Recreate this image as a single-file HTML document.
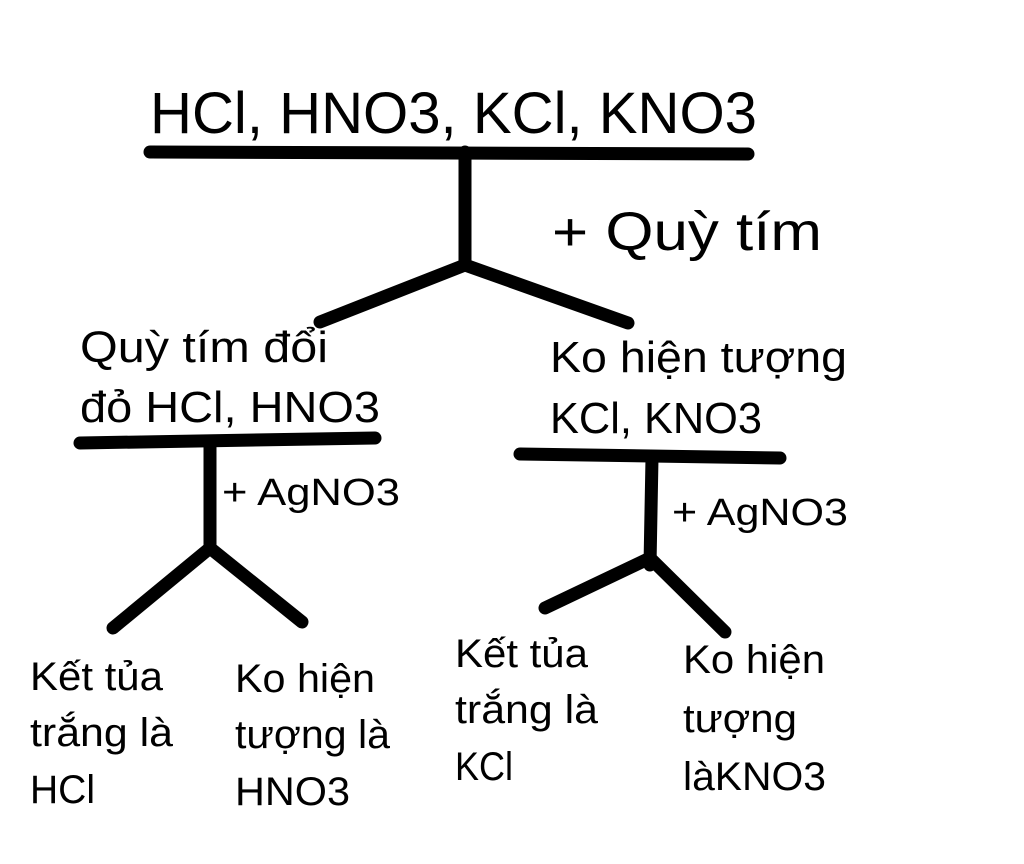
<!DOCTYPE html>
<html><head><meta charset="utf-8"><style>
html,body{margin:0;padding:0;background:#fff;}
svg{display:block;}
text{font-family:"Liberation Sans","DejaVu Sans",sans-serif;fill:#000;}
</style></head><body>
<svg width="1024" height="864" viewBox="0 0 1024 864" xmlns="http://www.w3.org/2000/svg">
<g stroke="#000" stroke-width="13" stroke-linecap="round" fill="none">
<line x1="150" y1="152" x2="748" y2="154"/>
<line x1="465" y1="152" x2="465" y2="265"/>
<line x1="465" y1="265" x2="320" y2="322"/>
<line x1="465" y1="265" x2="628" y2="323"/>
<line x1="80" y1="443" x2="375" y2="438"/>
<line x1="210" y1="443" x2="210" y2="548"/>
<line x1="210" y1="548" x2="113" y2="628"/>
<line x1="210" y1="548" x2="302" y2="622"/>
<line x1="520" y1="454" x2="780" y2="458"/>
<line x1="652" y1="458" x2="650" y2="565"/>
<line x1="650" y1="558" x2="545" y2="608"/>
<line x1="650" y1="558" x2="725" y2="632"/>
</g>
<text x="150" y="133" font-size="58" textLength="607" lengthAdjust="spacingAndGlyphs">HCl, HNO3, KCl, KNO3</text>
<text x="552" y="250" font-size="54" textLength="270" lengthAdjust="spacingAndGlyphs">+ Quỳ tím</text>
<text x="80" y="362" font-size="44" textLength="248" lengthAdjust="spacingAndGlyphs">Quỳ tím đổi</text>
<text x="80" y="422" font-size="44" textLength="300" lengthAdjust="spacingAndGlyphs">đỏ HCl, HNO3</text>
<text x="550" y="372" font-size="44" textLength="297" lengthAdjust="spacingAndGlyphs">Ko hiện tượng</text>
<text x="550" y="433" font-size="44" textLength="212" lengthAdjust="spacingAndGlyphs">KCl, KNO3</text>
<text x="222" y="505" font-size="38" textLength="178" lengthAdjust="spacingAndGlyphs">+ AgNO3</text>
<text x="672" y="525" font-size="38" textLength="176" lengthAdjust="spacingAndGlyphs">+ AgNO3</text>
<g font-size="40">
<text x="30" y="690" textLength="133" lengthAdjust="spacingAndGlyphs">Kết tủa</text>
<text x="30" y="746" textLength="143" lengthAdjust="spacingAndGlyphs">trắng là</text>
<text x="30" y="803" textLength="65" lengthAdjust="spacingAndGlyphs">HCl</text>
<text x="235" y="692" textLength="140" lengthAdjust="spacingAndGlyphs">Ko hiện</text>
<text x="235" y="748" textLength="155" lengthAdjust="spacingAndGlyphs">tượng là</text>
<text x="235" y="805" textLength="115" lengthAdjust="spacingAndGlyphs">HNO3</text>
<text x="455" y="667" textLength="133" lengthAdjust="spacingAndGlyphs">Kết tủa</text>
<text x="455" y="723" textLength="143" lengthAdjust="spacingAndGlyphs">trắng là</text>
<text x="455" y="780" textLength="58" lengthAdjust="spacingAndGlyphs">KCl</text>
<text x="683" y="673" textLength="142" lengthAdjust="spacingAndGlyphs">Ko hiện</text>
<text x="683" y="732" textLength="114" lengthAdjust="spacingAndGlyphs">tượng</text>
<text x="683" y="790" textLength="143" lengthAdjust="spacingAndGlyphs">làKNO3</text>
</g>
</svg>
</body></html>
